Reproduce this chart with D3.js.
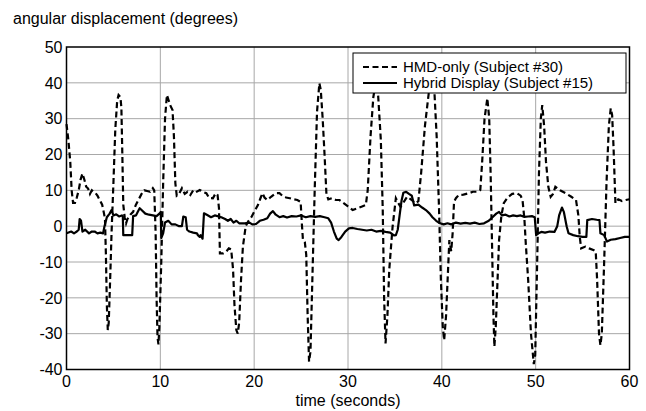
<!DOCTYPE html>
<meta charset="utf-8">
<style>
  body { margin: 0; background: #fff; }
  text { font-family: "Liberation Sans", Arial, sans-serif; font-size: 16px; fill: #000; }
  .legend text { font-size: 15px; }
  .grid line { stroke: #a8a8a8; stroke-width: 1px; }
</style>
<script src="https://d3js.org/d3.v7.min.js"></script>
<div id="chart"></div>
<script>
// tick values
const xTicks = [0, 10, 20, 30, 40, 50, 60];
const yTicks = [-40, -30, -20, -10, 0, 10, 20, 30, 40, 50];

// HMD-only (Subject #30): [time s, degrees]
const hmdOnly = [
  [0, 28.5], [0.2, 24], [0.4, 18], [0.55, 10], [0.7, 6.5], [0.9, 6.5], [1.1, 8], [1.3, 10], [1.5, 13], [1.7, 14.7],
  [1.9, 13], [2.1, 11], [2.3, 10.5], [2.5, 9], [2.7, 10], [2.9, 9.5], [3.1, 9.2], [3.3, 8.5], [3.6, 7], [3.8, 6],
  [4.0, 3.5], [4.1, 2], [4.2, -8], [4.3, -22], [4.4, -29], [4.5, -27], [4.65, -15], [4.8, -2], [5.0, 12], [5.2, 27],
  [5.4, 35], [5.55, 36.6], [5.75, 36], [5.85, 33], [5.95, 20], [6.05, 6], [6.2, 2.5], [6.35, 0.8], [6.5, 2], [6.8, 3.2],
  [7.1, 4], [7.4, 6], [7.7, 7.5], [8.0, 9], [8.3, 10], [8.6, 9.8], [8.9, 9.6], [9.2, 10.6], [9.35, 10], [9.5, -2],
  [9.6, -20], [9.7, -31], [9.8, -33], [9.9, -28], [10.1, -10], [10.3, 12], [10.5, 30], [10.7, 36.6], [10.9, 35], [11.1, 33.5],
  [11.3, 32.4], [11.45, 25], [11.6, 12], [11.75, 8.5], [12.0, 9], [12.3, 10.6], [12.6, 9], [12.9, 9.6], [13.2, 8.7], [13.5, 10],
  [13.8, 9.5], [14.2, 10.1], [14.6, 9.5], [14.9, 9.2], [15.2, 7.9], [15.6, 7.8], [15.9, 9.2], [16.1, 8.7], [16.25, 5], [16.35, -7.6],
  [16.7, -7.6], [17.0, -7.2], [17.3, -6.2], [17.55, -6.5], [17.75, -12], [17.9, -22], [18.1, -29], [18.25, -30], [18.4, -27], [18.6, -15],
  [18.8, -5.7], [19.1, 0], [19.4, 1.5], [19.7, 2.5], [20.0, 4], [20.4, 5.9], [20.7, 8], [20.9, 9.2], [21.1, 8], [21.4, 7.3],
  [21.8, 8.2], [22.3, 9.2], [22.7, 9.2], [23.0, 8.5], [23.4, 8], [23.8, 7.8], [24.2, 7.5], [24.6, 7.3], [24.95, 6.8], [25.1, 0],
  [25.2, -3.9], [25.4, -4.5], [25.55, -8], [25.7, -25], [25.85, -37.8], [26.0, -35], [26.2, -15], [26.45, 10], [26.7, 32], [26.95, 39.9],
  [27.1, 38], [27.3, 30], [27.5, 20], [27.7, 9], [27.9, 7.5], [28.3, 7.8], [28.7, 7.3], [29.1, 7.3], [29.5, 6.5], [30.0, 5.5],
  [30.5, 4.5], [31.0, 5], [31.5, 5.5], [31.9, 5.9], [32.1, 10], [32.4, 25], [32.7, 36], [32.95, 40], [33.2, 37], [33.5, 24],
  [33.7, 5], [33.85, -20], [34.0, -32.7], [34.2, -25], [34.4, -12], [34.75, -0.2], [35.1, 7.8], [35.35, 6.5], [35.6, 5.4], [36.0, 7],
  [36.3, 8.2], [36.7, 7.5], [37.2, 6.4], [37.5, 7], [37.8, 15], [38.2, 28], [38.6, 37], [38.9, 40], [39.2, 38], [39.45, 25],
  [39.7, 5], [39.9, -15], [40.1, -28], [40.25, -31.8], [40.45, -25], [40.8, -3.9], [41.0, -7], [41.15, -2], [41.3, 6.8], [41.5, 7.8],
  [41.8, 8.7], [42.3, 8.8], [42.9, 9.2], [43.3, 9.6], [43.8, 9.6], [44.1, 10.1], [44.3, 18], [44.55, 30], [44.85, 35.7], [45.05, 30],
  [45.2, 14.7], [45.35, -5], [45.5, -25], [45.6, -33.6], [45.75, -28], [46.1, -3.9], [46.35, 3], [46.6, 6.4], [47.0, 8], [47.5, 9],
  [48.0, 9.2], [48.4, 8.5], [48.6, 7.3], [48.8, 2], [48.95, -5], [49.2, -15], [49.5, -30], [49.8, -38.5], [49.95, -36], [50.2, -5],
  [50.35, 14.7], [50.55, 30], [50.7, 33.8], [50.9, 28], [51.1, 18], [51.35, 11], [51.6, 8.2], [51.85, 9], [52.1, 11], [52.6, 10],
  [53.2, 9.2], [53.8, 8.2], [54.3, 7.3], [54.55, 3], [54.7, -3], [54.85, -6.2], [55.3, -5.7], [55.7, -6.2], [56.2, -6.7], [56.4, -7.1],
  [56.55, -15], [56.75, -30], [56.9, -33.2], [57.05, -30], [57.3, -10], [57.55, 12], [57.8, 28], [58.0, 32.9], [58.15, 31], [58.3, 22],
  [58.5, 6.4], [58.8, 7.5], [59.2, 7], [59.6, 7.3], [60, 7.5]
];

// Hybrid Display (Subject #15): [time s, degrees]
const hybrid = [
  [0, -2], [0.5, -1.5], [0.8, -2], [1.1, -1.5], [1.3, -1], [1.4, 2], [1.55, 1.5], [1.7, -1.5], [2.0, -1], [2.4, -2],
  [2.7, -1.5], [3.0, -1.5], [3.3, -2], [3.6, -1.8], [3.9, -2], [4.05, 0], [4.3, 2.5], [4.6, 3.5], [4.8, 4.5], [5.0, 3],
  [5.3, 3.3], [5.6, 2.7], [5.9, 3], [6.0, 2.8], [6.05, -2.5], [6.5, -2.5], [7.0, -2.5], [7.1, 2.8], [7.4, 3], [7.6, 4],
  [7.8, 5], [8.0, 4.5], [8.4, 3.5], [8.8, 3.2], [9.2, 3], [9.6, 2.8], [9.9, 3.5], [10.05, 4], [10.1, -3.3], [10.3, -2],
  [10.5, 1], [10.85, 1.5], [11.2, 0.5], [11.6, 0.5], [12.0, 0], [12.3, 0], [12.45, 2.7], [12.7, 2.5], [12.85, -1], [13.1, -1.5],
  [13.5, -1.8], [13.9, -2], [14.0, -2.5], [14.2, -3], [14.3, -2.5], [14.5, -3.5], [14.65, 3.6], [15.0, 3.1], [15.4, 2.5], [15.8, 3],
  [16.1, 2.8], [16.5, 2.5], [16.9, 2], [17.2, 1.5], [17.5, 2], [17.8, 1], [18.1, 1.5], [18.4, 0.8], [19.0, 0.8], [19.5, 1],
  [19.8, 0.5], [20.2, 0.6], [20.6, 1.5], [21.0, 1.8], [21.4, 2.2], [21.7, 3.5], [22.0, 4.2], [22.3, 3.2], [22.7, 2.5], [23.1, 2.8],
  [23.5, 2.4], [24.0, 2.8], [24.5, 2.7], [25.0, 3], [25.5, 2.5], [26.0, 2.8], [26.5, 2.6], [27.0, 2.8], [27.5, 2.5], [27.9, 2.2],
  [28.2, 1], [28.5, -1.5], [28.8, -3.5], [29.0, -3.9], [29.3, -3], [29.7, -1.5], [30.1, -0.6], [30.5, -0.5], [31.0, -0.8], [31.5, -1],
  [32.0, -1.2], [32.5, -1], [33.0, -1.5], [33.5, -1.3], [34.0, -1.6], [34.5, -1.8], [34.9, -2.6], [35.1, -2.5], [35.3, -1], [35.5, 3],
  [35.7, 7], [35.9, 9.3], [36.2, 9.6], [36.5, 9], [36.8, 8.5], [37.05, 5.8], [37.5, 6], [37.9, 5.2], [38.3, 4.5], [38.7, 3.5],
  [39.0, 2.5], [39.4, 1.5], [39.8, 0.8], [40.2, 0.5], [40.6, 0.8], [41.0, 0.5], [41.5, 1], [42.0, 0.7], [42.5, 0.9], [43.0, 0.7],
  [43.5, 1], [44.0, 0.6], [44.5, 0.8], [45.0, 1.5], [45.4, 2.5], [45.8, 3.5], [46.1, 4], [46.4, 3], [46.8, 3.2], [47.2, 2.7],
  [47.6, 3], [48.0, 2.8], [48.4, 3], [48.8, 2.6], [49.2, 2.7], [49.6, 2.8], [49.9, 2.5], [50.05, -2.5], [50.3, -2], [50.6, -1.6],
  [51.0, -1.8], [51.5, -1.5], [52.0, -1.6], [52.3, 0], [52.5, 3], [52.8, 5.2], [53.0, 4], [53.3, 0], [53.5, -2], [54.0, -2.5],
  [54.5, -2.8], [55.0, -3], [55.4, -3], [55.5, 1.7], [56.0, 2], [56.5, 1.8], [56.8, 1.7], [56.9, -2], [57.3, -2.5], [57.6, -4.3],
  [58.0, -3.8], [58.5, -3.6], [59.0, -3.3], [59.5, -3], [60, -3]
];

const W = 646, H = 411;
const margin = {top: 47, right: 16.5, bottom: 41.5, left: 66.5};
const width = W - margin.left - margin.right,
      height = H - margin.top - margin.bottom;

const svg = d3.select("#chart").append("svg")
    .attr("width", W)
    .attr("height", H);

const g = svg.append("g")
    .attr("transform", `translate(${margin.left},${margin.top})`);

const x = d3.scaleLinear().domain([0, 60]).range([0, width]);
const y = d3.scaleLinear().domain([-40, 50]).range([height, 0]);

// grid
g.append("g").attr("class", "grid")
  .selectAll("line").data(xTicks.slice(1, -1)).join("line")
    .attr("x1", d => x(d)).attr("x2", d => x(d))
    .attr("y1", 0).attr("y2", height);
g.append("g").attr("class", "grid")
  .selectAll("line").data(yTicks.slice(1, -1)).join("line")
    .attr("x1", 0).attr("x2", width)
    .attr("y1", d => y(d)).attr("y2", d => y(d));

const line = d3.line()
    .x(d => x(d[0]))
    .y(d => y(d[1]));

g.append("path")
    .datum(hybrid)
    .attr("d", line)
    .attr("fill", "none")
    .attr("stroke", "#000")
    .attr("stroke-width", 2.2)
    .attr("stroke-linejoin", "round");

g.append("path")
    .datum(hmdOnly)
    .attr("d", line)
    .attr("fill", "none")
    .attr("stroke", "#000")
    .attr("stroke-width", 2.2)
    .attr("stroke-dasharray", "6,3.5");

// frame
g.append("rect")
    .attr("width", width).attr("height", height)
    .attr("fill", "none")
    .attr("stroke", "#000")
    .attr("stroke-width", 1.5);

// tick labels
g.append("g").selectAll("text").data(xTicks).join("text")
    .attr("x", d => x(d))
    .attr("y", height + 17.5)
    .attr("text-anchor", "middle")
    .text(d => d);
g.append("g").selectAll("text").data(yTicks).join("text")
    .attr("x", -4)
    .attr("y", d => y(d))
    .attr("dy", "0.36em")
    .attr("text-anchor", "end")
    .text(d => d);

// titles
svg.append("text")
    .attr("x", 13)
    .attr("y", 24)
    .text("angular displacement (degrees)");
svg.append("text")
    .attr("x", margin.left + width / 2)
    .attr("y", 406)
    .attr("text-anchor", "middle")
    .text("time (seconds)");

// legend
const legend = svg.append("g").attr("class", "legend").attr("transform", "translate(353,53)");
legend.append("rect")
    .attr("width", 273).attr("height", 40)
    .attr("fill", "#fff")
    .attr("stroke", "#000")
    .attr("stroke-width", 1);
const legendItems = [
  {label: "HMD-only (Subject #30)", dash: "6,3.5"},
  {label: "Hybrid Display (Subject #15)", dash: null}
];
legendItems.forEach((d, i) => {
  const yy = 14 + i * 16;
  legend.append("line")
      .attr("x1", 10).attr("x2", 44)
      .attr("y1", yy).attr("y2", yy)
      .attr("stroke", "#000")
      .attr("stroke-width", 2.2)
      .attr("stroke-dasharray", d.dash);
  legend.append("text")
      .attr("x", 50)
      .attr("y", yy)
      .attr("dy", "0.36em")
      .text(d.label);
});
</script>
